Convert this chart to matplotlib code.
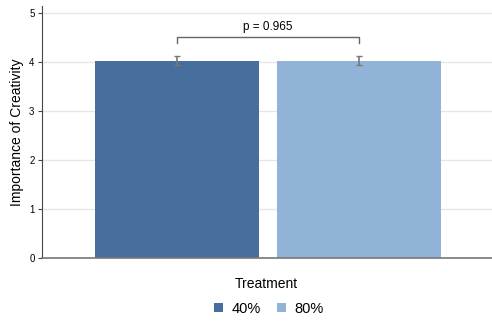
import numpy as np
import matplotlib.pyplot as plt

plt.rcParams['font.family'] = ['Liberation Sans', 'DejaVu Sans']

# data
groups = ['40%', '80%']
means = [4.02, 4.02]
errors = [0.09, 0.09]
colors = ['#466f9d', '#91b3d7']
p_label = 'p = 0.965'

fig = plt.figure(figsize=(4.92, 3.22), dpi=100)
ax = fig.add_axes([41.5 / 492, (322 - 258) / 322, (492 - 41.5) / 492, (258 - 6) / 322])

x = np.arange(len(groups))
bars = ax.bar(x, means, width=0.9, color=colors, label=groups, zorder=2)
ax.errorbar(x, means, yerr=errors, fmt='none', ecolor='#777777',
            elinewidth=1.2, capsize=2.5, capthick=1, zorder=3)

# significance bracket
top = 4.51
ax.plot([x[0], x[0], x[1], x[1]], [top - 0.12, top, top, top - 0.12],
        color='#666666', lw=1, zorder=3)
ax.text(x.mean(), top + 0.07, p_label, ha='center', va='bottom', fontsize=8.5)

ax.set_xlim(-0.745, 1.73)
ax.set_ylim(0, 5.14)
ax.set_yticks(range(6))
ax.set_xticks([])
ax.yaxis.grid(True, color='#e6e6e6', lw=1, zorder=0)
ax.set_axisbelow(True)
for s in ['top', 'right']:
    ax.spines[s].set_visible(False)
ax.spines['left'].set_color('#444444')
ax.spines['bottom'].set_color('#777777')
ax.spines['bottom'].set_linewidth(1.2)
ax.tick_params(axis='y', labelsize=7, length=3, color='#444444', pad=2)

ax.set_ylabel('Importance of Creativity', fontsize=10, labelpad=4)
ax.set_xlabel('Treatment', fontsize=10, labelpad=14)

fig.legend(handles=bars, labels=groups, loc='center', bbox_to_anchor=(0.547, (322 - 309) / 322),
           ncol=2, frameon=False, fontsize=10.5, handlelength=0.6, handleheight=0.6,
           columnspacing=1.1, handletextpad=0.6)

fig.savefig('out.png', dpi=100)
